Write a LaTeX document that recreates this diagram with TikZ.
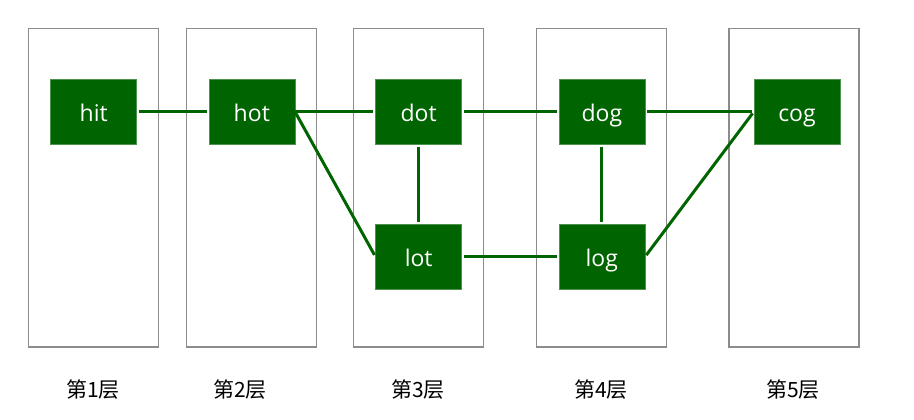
\documentclass[tikz,border=0pt]{standalone}
\usepackage{fontspec}
\setmainfont{Open Sans}
\newfontfamily\cjk{Noto Sans CJK SC}
\usetikzlibrary{positioning}
\definecolor{wlGreen}{HTML}{006400}
\definecolor{wlGray}{HTML}{8C8C8C}
\tikzset{
  % One column per BFS layer.
  wl/layer/.style={
    draw=wlGray, line width=1.4pt, fill=none, inner sep=0pt,
    minimum width=130pt, minimum height=318pt
  },
  % A word.
  wl/word/.style={
    draw=wlGreen!70, fill=wlGreen, line width=0.5pt, text=white, inner sep=0pt,
    minimum width=86pt, minimum height=65pt, text height=22pt, text depth=2pt,
    font=\fontsize{23}{26}\selectfont
  },
  % Layer caption under the column.
  wl/caption/.style={
    font=\cjk\fontsize{21}{24}\selectfont, text=black, inner sep=0pt
  },
  % One-letter change between two words.
  wl/link/.style={
    draw=wlGreen, line width=3pt, shorten <=2pt, shorten >=2pt
  },
}
\begin{document}
\begin{tikzpicture}[x=1pt,y=-1pt]
  \useasboundingbox (0,0) rectangle (914,420);
  \node[wl/layer] (L1) at (93.6,187.8)  {};
  \node[wl/layer] (L2) at (251.7,187.8) {};
  \node[wl/layer] (L3) at (418.3,187.8) {};
  \node[wl/layer] (L4) at (601.7,187.8) {};
  \node[wl/layer] (L5) at (794,187.8)   {};
  \node[wl/word] (hit) at (93.7,111.8)  {hit};
  \node[wl/word] (hot) at (251.8,111.8) {hot};
  \node[wl/word] (dot) at (418.7,111.8) {dot};
  \node[wl/word] (lot) at (418.7,256.7) {lot};
  \node[wl/word] (dog) at (601.8,111.8) {dog};
  \node[wl/word] (log) at (601.8,256.7) {log};
  \node[wl/word] (cog) at (797,111.8)   {cog};
  \foreach \x/\y in {hit/hot,lot/log,dog/cog}{\draw[wl/link] (\x.east) -- (\y.west);}
  \foreach \x/\y in {dot/lot,dog/log}{\draw[wl/link] (\x.south) -- (\y.north);}
  \draw[wl/link, shorten <=0pt] (hot.east) -- (dot.west);
  \draw[wl/link, shorten <=0pt] (hot.east) -- (lot.west);
  \draw[wl/link] (dot.east) -- (dog.west);
  \draw[wl/link] (log.east) -- (cog.west);
  \node[wl/caption] (c1) at (93,390)  {第1层};
  \node[wl/caption] (c2) at (240,390) {第2层};
  \node[wl/caption] (c3) at (418,390) {第3层};
  \node[wl/caption] (c4) at (601,390) {第4层};
  \node[wl/caption] (c5) at (793,390) {第5层};
\end{tikzpicture}
\end{document}
